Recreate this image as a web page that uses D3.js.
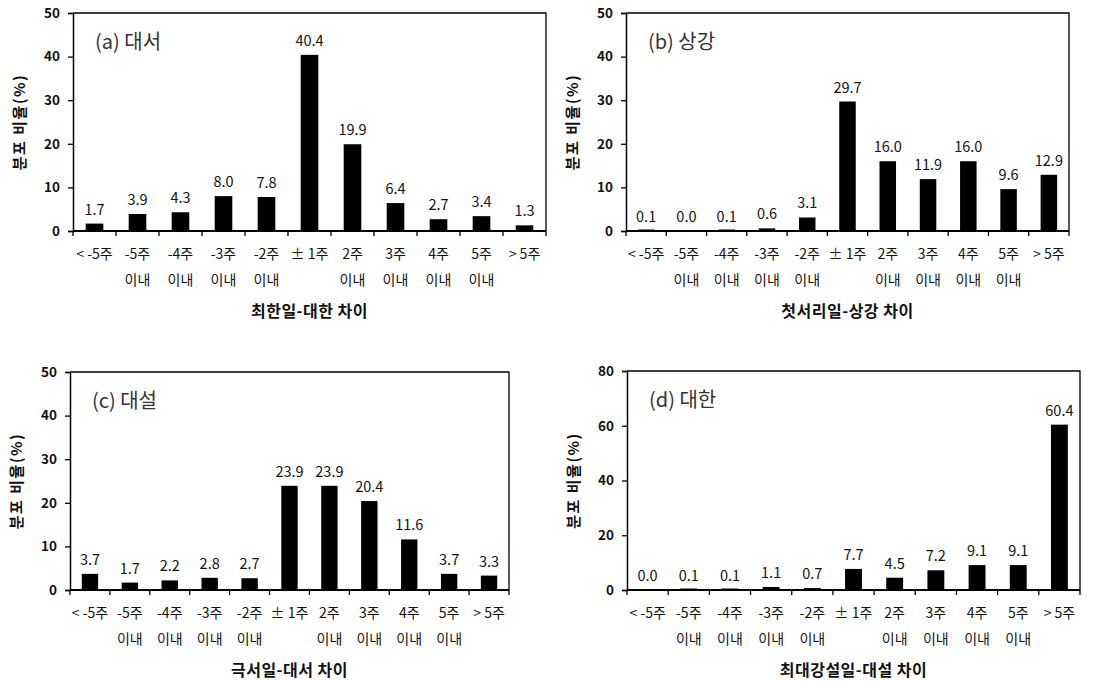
<!DOCTYPE html>
<html>
<head>
<meta charset="utf-8">
<script src="https://cdn.jsdelivr.net/npm/d3@7"></script>
<style>
  body { margin: 0; background: #fff; }
  svg text { font-family: "Noto Sans CJK KR", "Noto Sans", sans-serif; }
</style>
</head>
<body>
<svg id="chart" width="1107" height="681"></svg>
<script>
// categories (two-line tick labels)
var catLine1 = ["< -5주", "-5주", "-4주", "-3주", "-2주", "± 1주", "2주", "3주", "4주", "5주", "> 5주"];
var catLine2 = ["", "이내", "이내", "이내", "이내", "", "이내", "이내", "이내", "이내", ""];

// series values (%)
var valuesA = [1.7, 3.9, 4.3, 8.0, 7.8, 40.4, 19.9, 6.4, 2.7, 3.4, 1.3];
var valuesB = [0.1, 0.0, 0.1, 0.6, 3.1, 29.7, 16.0, 11.9, 16.0, 9.6, 12.9];
var valuesC = [3.7, 1.7, 2.2, 2.8, 2.7, 23.9, 23.9, 20.4, 11.6, 3.7, 3.3];
var valuesD = [0.0, 0.1, 0.1, 1.1, 0.7, 7.7, 4.5, 7.2, 9.1, 9.1, 60.4];

var panelLabels = ["(a) 대서", "(b) 상강", "(c) 대설", "(d) 대한"];
var xTitles = ["최한일-대한 차이", "첫서리일-상강 차이", "극서일-대서 차이", "최대강설일-대설 차이"];
var yTitle = "분포 비율(%)";
var yMax = [50, 50, 50, 80];
var yTicks = [[0, 10, 20, 30, 40, 50], [0, 10, 20, 30, 40, 50], [0, 10, 20, 30, 40, 50], [0, 20, 40, 60, 80]];

var svg = d3.select("#chart");

function drawPanel(values, i, box) {
  var g = svg.append("g");
  var x = d3.scaleBand().domain(d3.range(values.length)).range([box.x0, box.x1]);
  var y = d3.scaleLinear().domain([0, yMax[i]]).range([box.y1, box.y0]);

  // frame (top & right)
  g.append("path")
    .attr("d", "M" + box.x0 + "," + box.y0 + "H" + box.x1 + "V" + box.y1)
    .attr("fill", "none").attr("stroke", "#000").attr("stroke-width", 1.3);

  // y axis
  var ya = g.append("g").attr("transform", "translate(" + box.x0 + ",0)")
    .call(d3.axisLeft(y).tickValues(yTicks[i]).tickSize(5).tickPadding(8));
  ya.select(".domain").attr("stroke", "#000").attr("stroke-width", 1.5);
  ya.selectAll(".tick line").attr("stroke", "#000").attr("stroke-width", 1.3);
  ya.selectAll(".tick text").attr("font-size", 13.5).attr("font-weight", "bold")
    .attr("fill", "#111").attr("font-family", "DejaVu Sans, sans-serif");

  // x axis baseline and boundary ticks
  g.append("line").attr("x1", box.x0).attr("x2", box.x1).attr("y1", box.y1).attr("y2", box.y1)
    .attr("stroke", "#000").attr("stroke-width", 2);
  g.selectAll(".bt").data(d3.range(values.length + 1)).enter().append("line")
    .attr("x1", function(d) { return box.x0 + d * x.step(); })
    .attr("x2", function(d) { return box.x0 + d * x.step(); })
    .attr("y1", box.y1).attr("y2", box.y1 + 5)
    .attr("stroke", "#000").attr("stroke-width", 1.3);

  // bars
  var bw = x.step() * 0.41;
  g.selectAll("rect.bar").data(values).enter().append("rect")
    .attr("x", function(d, j) { return x(j) + x.bandwidth() / 2 - bw / 2; })
    .attr("width", bw)
    .attr("y", function(d) { return Math.min(y(d), box.y1 - (d > 0 ? 1.5 : 0)); })
    .attr("height", function(d) { return Math.max(box.y1 - y(d), d > 0 ? 1.5 : 0); })
    .attr("fill", "#000");

  // value labels
  g.selectAll("text.val").data(values).enter().append("text")
    .attr("x", function(d, j) { return x(j) + x.bandwidth() / 2; })
    .attr("y", function(d) { return y(d) - 9; })
    .attr("text-anchor", "middle").attr("font-size", 14.5).attr("fill", "#111")
    .text(function(d) { return d.toFixed(1); });

  // category labels
  g.selectAll("text.c1").data(catLine1).enter().append("text")
    .attr("x", function(d, j) { return x(j) + x.bandwidth() / 2; })
    .attr("y", box.y1 + 28)
    .attr("text-anchor", "middle").attr("font-size", 14).attr("fill", "#111")
    .text(function(d) { return d; });
  g.selectAll("text.c2").data(catLine2).enter().append("text")
    .attr("x", function(d, j) { return x(j) + x.bandwidth() / 2; })
    .attr("y", box.y1 + 54)
    .attr("text-anchor", "middle").attr("font-size", 14).attr("fill", "#111")
    .text(function(d) { return d; });

  // x title
  g.append("text").attr("x", (box.x0 + box.x1) / 2).attr("y", box.y1 + 86)
    .attr("text-anchor", "middle").attr("font-size", 16).attr("font-weight", "bold")
    .attr("letter-spacing", 0.5).attr("fill", "#111").text(xTitles[i]);

  // y title
  g.append("text")
    .attr("transform", "translate(" + (box.x0 - 48) + "," + ((box.y0 + box.y1) / 2) + ") rotate(-90)")
    .attr("text-anchor", "middle").attr("font-size", 15).attr("font-weight", "bold")
    .attr("letter-spacing", 1.5).attr("fill", "#111").text(yTitle);

  // panel label
  g.append("text").attr("x", box.x0 + 22).attr("y", box.y0 + 36)
    .attr("font-size", 20).attr("fill", "#333").text(panelLabels[i]);
}

drawPanel(valuesA, 0, { x0: 73, x1: 546, y0: 13, y1: 231 });
drawPanel(valuesB, 1, { x0: 626, x1: 1069, y0: 13, y1: 231 });
drawPanel(valuesC, 2, { x0: 70, x1: 509, y0: 372, y1: 590 });
drawPanel(valuesD, 3, { x0: 627, x1: 1080, y0: 371, y1: 590 });
</script>
</body>
</html>
